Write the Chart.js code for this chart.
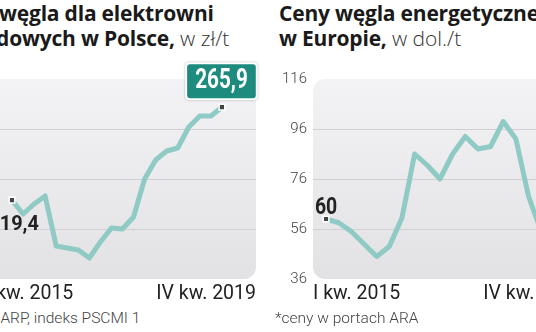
<!DOCTYPE html>
<html lang="pl">
<head>
<meta charset="UTF-8">
<title>Ceny węgla</title>
<script src="https://cdn.jsdelivr.net/npm/chart.js"></script>
<style>
  html, body { margin: 0; padding: 0; }
  body { width: 536px; height: 332px; overflow: hidden; position: relative; background: #fff; font-family: Roboto, sans-serif; }
  .title { position: absolute; top: 1px; font: 700 21px/25px "Open Sans", sans-serif; color: #1a1a1a; white-space: nowrap; letter-spacing: -0.2px; }
  .title span { font-weight: 300; color: #333; letter-spacing: 0; }
  .box { position: absolute; top: 60px; width: 330px; height: 245px; }
  .note { position: absolute; top: 309px; font: 300 15.5px Roboto, sans-serif; color: #444; white-space: nowrap; }
</style>
</head>
<body>
<div class="title" style="left:-57px">Ceny węgla dla elektrowni<br>zawodowych w Polsce, <span>w zł/t</span></div>
<div class="title" style="left:279px">Ceny węgla energetycznego*<br>w Europie, <span>w dol./t</span></div>

<canvas id="plChart" class="box" width="330" height="245" style="left:-52px"></canvas>
<canvas id="euChart" class="box" width="330" height="245" style="left:275px"></canvas>

<div class="note" style="left:-51px">Źródło: ARP, indeks PSCMI 1</div>
<div class="note" style="left:275px">*ceny w portach ARA</div>

<script>
// kwartały I 2015 - IV 2019
const quarters = ['I kw. 2015','II kw. 2015','III kw. 2015','IV kw. 2015',
                  'I kw. 2016','II kw. 2016','III kw. 2016','IV kw. 2016',
                  'I kw. 2017','II kw. 2017','III kw. 2017','IV kw. 2017',
                  'I kw. 2018','II kw. 2018','III kw. 2018','IV kw. 2018',
                  'I kw. 2019','II kw. 2019','III kw. 2019','IV kw. 2019'];
const xTicks = ['I kw. 2015', 'IV kw. 2019'];

// Polska, zł/t (PSCMI 1)
const plPrices = [219.4, 212.5, 217.5, 221.5, 196.5, 195.5, 194.5, 190.5, 198.5, 205.5,
                  205, 211, 230, 239.5, 244, 245.5, 256, 261.5, 261.5, 265.9];
const plLabels = [{ i: 0, text: '219,4', kind: 'side' }, { i: 19, text: '265,9', kind: 'box' }];
const plAxis = { min: 180, max: 280, step: 25 };

// Europa (ARA), dol./t
const euPrices = [60, 58.5, 55, 50, 45, 49, 60.5, 86, 81.5, 76,
                  86, 93, 88, 89, 99, 92, 69, 55, 57, 58];
const euLabels = [{ i: 0, text: '60', kind: 'top' }];
const euAxis = { min: 36, max: 116, step: 20 };

const LINE = '#8fcbc4';

function narrowText(ctx, text, x, y, size, sx, align, color) {
  ctx.save();
  ctx.font = '700 ' + size + 'px Roboto';
  const w = ctx.measureText(text).width * sx;
  const left = align === 'center' ? x - w / 2 : align === 'right' ? x - w : x;
  ctx.translate(left, y);
  ctx.scale(sx, 1);
  ctx.textAlign = 'left';
  ctx.textBaseline = 'alphabetic';
  ctx.fillStyle = color;
  ctx.fillText(text, 0, 0);
  ctx.restore();
  return w;
}

const plotBg = {
  id: 'plotBg',
  beforeDraw(chart) {
    const { ctx, chartArea: a } = chart;
    const g = ctx.createLinearGradient(0, a.top, 0, a.bottom);
    g.addColorStop(0, '#f3f3f5');
    g.addColorStop(1, '#e2e2e4');
    ctx.save();
    ctx.fillStyle = g;
    ctx.beginPath();
    ctx.roundRect(a.left, a.top, a.width, a.height, 12);
    ctx.fill();
    ctx.restore();
  }
};

const valueLabels = {
  id: 'valueLabels',
  afterDatasetsDraw(chart, args, opts) {
    const ctx = chart.ctx;
    const pts = chart.getDatasetMeta(0).data;
    (opts.items || []).forEach(l => {
      const p = pts[l.i];
      if (l.kind === 'side') {
        narrowText(ctx, l.text, p.x + 27, p.y + 29.5, 21, 0.95, 'right', '#222');
      } else if (l.kind === 'top') {
        narrowText(ctx, l.text, p.x, p.y - 5.5, 24, 0.81, 'center', '#222');
      } else if (l.kind === 'box') {
        ctx.save();
        ctx.font = '700 28px Roboto';
        const tw = ctx.measureText(l.text).width * 0.74;
        const w = tw + 16, h = 34;
        const bx = p.x - 0.5 - w / 2, by = p.y - 9 - h;
        ctx.shadowColor = 'rgba(0,0,0,0.35)';
        ctx.shadowBlur = 2;
        ctx.fillStyle = '#fff';
        ctx.beginPath();
        ctx.roundRect(bx - 2, by - 2, w + 4, h + 4, 4);
        ctx.fill();
        ctx.shadowColor = 'transparent';
        ctx.fillStyle = '#1d8b7d';
        ctx.beginPath();
        ctx.roundRect(bx, by, w, h, 3);
        ctx.fill();
        ctx.restore();
        narrowText(ctx, l.text, bx + w / 2, by + h - 10, 28, 0.74, 'center', '#fff');
      }
    });
  }
};

function makeChart(id, values, axis, labels, xMin, xMax) {
  const ends = [0, values.length - 1];
  return new Chart(document.getElementById(id), {
    type: 'line',
    data: {
      datasets: [{
        data: values.map((v, i) => ({ x: i, y: v })),
        borderColor: LINE,
        borderWidth: 5,
        borderJoinStyle: 'round',
        tension: 0,
        fill: false,
        pointStyle: 'rect',
        pointRadius: ctx => ends.includes(ctx.dataIndex) ? 4 : 0,
        pointBackgroundColor: '#444',
        pointBorderColor: '#fff',
        pointBorderWidth: 1.5
      }]
    },
    options: {
      responsive: false,
      animation: false,
      layout: { padding: { top: 19, right: 22, left: 0, bottom: 0 } },
      plugins: {
        legend: { display: false },
        tooltip: { enabled: false },
        valueLabels: { items: labels }
      },
      scales: {
        x: {
          type: 'linear',
          min: xMin,
          max: xMax,
          afterBuildTicks: s => { s.ticks = [{ value: s.min }, { value: s.max }]; },
          afterFit: s => { s.height = 26; },
          grid: { display: false, drawTicks: false },
          border: { display: false },
          ticks: {
            align: 'inner',
            maxRotation: 0,
            autoSkip: false,
            padding: 3,
            color: '#222',
            font: { family: 'Roboto', size: 19.5 },
            callback: (v, i) => xTicks[i]
          }
        },
        y: {
          min: axis.min,
          max: axis.max,
          afterFit: s => { s.width = 38; },
          border: { display: false },
          grid: {
            drawTicks: false,
            lineWidth: 1,
            color: c => (c.tick && (c.tick.value === axis.min || c.tick.value === axis.max)) ? 'rgba(0,0,0,0)' : '#d0d0d4'
          },
          ticks: {
            stepSize: axis.step,
            padding: 6,
            color: '#444',
            font: { family: 'Roboto', size: 15, weight: 300 }
          }
        }
      }
    },
    plugins: [plotBg, valueLabels]
  });
}

makeChart('plChart', plPrices, plAxis, plLabels, -2.35, 22.08);
makeChart('euChart', euPrices, euAxis, euLabels, -1.03, 20.3);
</script>
</body>
</html>
